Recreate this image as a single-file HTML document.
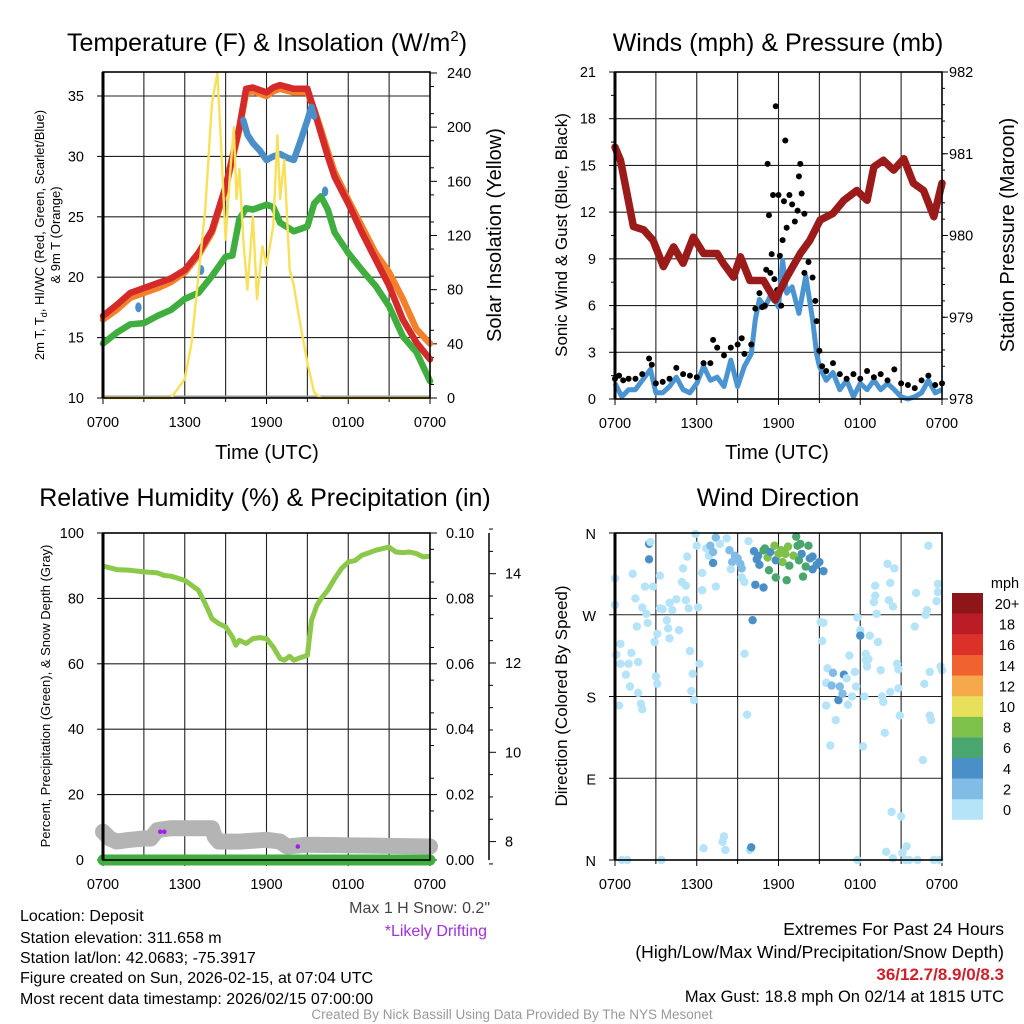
<!DOCTYPE html>
<html><head><meta charset="utf-8"><style>
html,body{margin:0;padding:0;background:#fff;}
svg{display:block;font-family:"Liberation Sans",Arial,sans-serif;}
</style></head><body>
<svg id="chart" width="1024" height="1024" viewBox="0 0 1024 1024" xmlns="http://www.w3.org/2000/svg">
<rect x="0" y="0" width="1024" height="1024" fill="#fff"/>
<g font-size="25" text-anchor="middle" fill="#000">
<text x="267" y="51">Temperature (F) &amp; Insolation (W/m<tspan font-size="15" dy="-10">2</tspan><tspan dy="10">)</tspan></text>
<text x="778" y="51">Winds (mph) &amp; Pressure (mb)</text>
<text x="265" y="506">Relative Humidity (%) &amp; Precipitation (in)</text>
<text x="778" y="506">Wind Direction</text>
</g>
<g font-size="20" text-anchor="middle">
<text x="267" y="459">Time (UTC)</text>
<text x="777" y="459">Time (UTC)</text>
<text transform="translate(501,235) rotate(-90)">Solar Insolation (Yellow)</text>
<text transform="translate(1014,235) rotate(-90)">Station Pressure (Maroon)</text>
</g>
<g font-size="17" text-anchor="middle">
<text transform="translate(567,235) rotate(-90)">Sonic Wind &amp; Gust (Blue, Black)</text>
<text transform="translate(567,696) rotate(-90)">Direction (Colored By Speed)</text>
</g>
<g font-size="13" text-anchor="middle">
<text transform="translate(44,235) rotate(-90)">2m T, T<tspan font-size="9" dy="3">d</tspan><tspan dy="-3">, HI/WC (Red, Green, Scarlet/Blue)</tspan></text>
<text transform="translate(60,235) rotate(-90)">&amp; 9m T (Orange)</text>
<text transform="translate(50,696) rotate(-90)">Percent, Precipitation (Green), &amp; Snow Depth (Gray)</text>
</g>
<g id="plots"></g>
<g font-size="16" fill="#000">
<text x="20" y="921">Location: Deposit</text>
<text x="20" y="943">Station elevation: 311.658 m</text>
<text x="20" y="963">Station lat/lon: 42.0683; -75.3917</text>
<text x="20" y="983">Figure created on Sun, 2026-02-15, at 07:04 UTC</text>
<text x="20" y="1004">Most recent data timestamp: 2026/02/15 07:00:00</text>
</g>
<text x="490" y="913" font-size="16" fill="#444" text-anchor="end">Max 1 H Snow: 0.2"</text>
<text x="487" y="936" font-size="16" fill="#a030e0" text-anchor="end">*Likely Drifting</text>
<g text-anchor="end">
<text x="1004" y="935" font-size="17.5">Extremes For Past 24 Hours</text>
<text x="1004" y="958" font-size="17.5">(High/Low/Max Wind/Precipitation/Snow Depth)</text>
<text x="1004" y="980" font-size="17" fill="#d0202a" font-weight="bold">36/12.7/8.9/0/8.3</text>
<text x="1004" y="1002" font-size="16.5">Max Gust: 18.8 mph On 02/14 at 1815 UTC</text>
</g>
<text x="512" y="1019" font-size="13.5" fill="#999" text-anchor="middle">Created By Nick Bassill Using Data Provided By The NYS Mesonet</text>
</svg>
<script>
// ---------- DATA ----------
const tempHours = [0,1,2,3,4,5,6,7,8,9,10,10.5,11,12,12.5,13,14,15,15.5,16,16.5,17,18,19,20,21,22,23,24];
const tempRed   = [16.8,17.7,18.7,19.1,19.5,19.9,20.6,22.0,23.9,27.5,32.4,35.6,35.7,35.3,35.7,35.9,35.6,35.6,33.8,31.9,30.0,28.3,26.1,23.7,21.5,19.3,16.5,14.6,13.2];
const tempOrange= [16.5,17.3,18.3,18.7,19.1,19.6,20.4,21.8,23.7,27.3,32.2,35.3,35.4,35.0,35.4,35.6,35.3,35.3,33.9,32.2,30.4,28.7,26.4,24.2,22.0,20.4,18.2,15.7,14.5];
const tdHours = [0,1,2,3,4,5,6,7,8,9,9.5,10,10.5,11,12,12.5,13,14,15,15.5,16,16.5,17,18,19,20,21,22,23,24];
const tdGreen = [14.5,15.4,16.1,16.2,16.8,17.3,18.2,18.7,20.1,21.7,21.8,24.8,25.7,25.6,26.0,25.8,24.5,23.8,24.2,26.1,26.7,25.6,23.7,22.0,20.6,19.3,17.6,15.1,13.8,11.4];
const hiHours = [10.3,10.6,11,11.5,12,12.5,13,13.5,14,14.5,15,15.3,15.5];
const hiBlue  = [33.0,31.8,31.1,30.5,29.7,30.0,30.2,29.9,29.7,31.3,33.0,34.1,33.3];
const hiDotHours = [2.6,7.2,16.3];
const hiDotVals  = [17.5,20.6,27.1];
const solarHours = [0,5,6,6.5,7,7.5,8,8.4,8.6,9,9.3,9.6,9.8,10,10.3,10.6,11,11.3,11.7,12,12.5,12.8,13,13.3,13.7,14,14.5,15,15.5,16,24];
const solarVals  = [0,0,14,41,90,139,218,240,200,117,162,200,147,169,117,80,134,73,112,98,127,194,147,176,95,83,53,26,4,0,0];

const windHours = [0,0.5,1,1.5,2,2.6,3,3.5,4,4.5,5,5.5,6,6.5,7,7.5,8,8.5,9,9.5,10,10.3,10.6,11,11.5,12,12.3,12.6,13,13.5,14,14.5,14.8,15,15.5,16,16.5,17,17.5,18,18.5,19,19.5,20,20.5,21,21.5,22,22.5,23,23.5,24];
const windSpeed = [1.0,0.15,0.6,0.6,1.2,1.9,0.4,0.4,0.8,1.4,0.6,0.4,1.0,2.1,1.2,1.4,0.8,2.5,0.8,2.1,2.9,5.1,6.4,5.9,6.8,5.9,8.9,6.8,7.2,5.5,7.9,5.1,2.9,2.1,1.2,1.7,0.6,1.2,0.15,1.0,0.6,1.2,0.6,1.0,0.6,0.15,0,0.15,0.4,1.2,0.4,0.6];
const gustHours = [0,0.3,0.6,1,1.5,2,2.5,2.7,3,3.5,4,4.5,5,5.5,6,6.5,7,7.2,7.5,8,8.5,9,9.3,9.5,10,10.3,10.6,10.8,11,11.1,11.2,11.3,11.4,11.5,11.6,11.7,11.8,11.9,12,12.1,12.2,12.3,12.4,12.5,12.6,12.8,13,13.2,13.4,13.5,13.6,13.7,13.9,13.9,14.2,14.5,14.7,14.8,15,15.2,15.5,16,16.5,17,17.5,18,18.5,19,19.5,20,20.5,21,21.5,22,22.5,23,23.5,24];
const gustSpeed = [1.3,1.5,1.2,1.3,1.3,1.6,2.6,2.2,1.0,1.1,1.3,2.0,1.6,1.5,1.4,2.3,2.3,3.8,3.3,2.8,3.3,3.5,3.9,2.9,3.5,5.8,6.8,5.9,6.0,8.3,15.1,11.8,8.1,9.3,13.1,7.7,18.8,7.0,13.1,9.2,6.0,10.2,12.7,16.6,11.0,13.1,12.5,11.4,12.1,14.3,15.1,13.2,11.9,8.1,8.8,7.8,6.3,5.0,3.1,2.1,1.8,2.3,1.6,1.3,1.6,1.3,1.8,1.4,1.6,1.2,1.9,1.0,0.9,0.7,1.2,1.5,0.9,1.0];
const presHours = [0,0.4,1.35,2.1,2.8,3.55,4.3,5.0,5.75,6.5,7.5,7.95,8.7,9.2,9.9,10.9,11.75,12.6,13.6,14.3,15.06,16.0,16.8,17.75,18.5,19.0,19.7,20.45,21.2,21.9,22.65,23.4,24];
const presVals  = [981.08,980.92,980.11,980.07,979.94,979.62,979.86,979.66,979.98,979.78,979.78,979.66,979.49,979.74,979.45,979.45,979.21,979.49,979.78,979.94,980.19,980.27,980.43,980.55,980.43,980.84,980.92,980.8,980.94,980.64,980.55,980.23,980.64];

const rhHours = [0,1,2,3,4,4.5,5,6,7,7.5,8,8.5,9,9.5,9.75,10,10.5,11,11.5,12,12.5,13,13.3,13.7,14,14.5,15,15.3,15.7,16,16.5,17,17.5,18,18.5,19,19.5,20,20.5,21,21.5,22,22.5,23,23.5,24];
const rhVals  = [89.9,88.8,88.6,88.1,87.8,87.0,86.8,85.5,82.5,78.4,73.8,72.3,71.3,68.2,65.7,67.2,66.2,67.7,68.0,67.7,65.1,61.6,61.1,62.3,61.1,61.9,62.6,73.3,77.9,79.9,82.5,86.0,89.1,91.1,91.6,93.2,93.9,94.7,95.2,95.7,94.2,94.0,94.2,93.7,92.7,92.9];
const snowHours = [0,0.5,1,2,3,3.5,4,5,8,8.2,8.5,10,12,13,13.5,15,24];
const snowVals  = [8.22,8.07,8.0,8.04,8.07,8.07,8.26,8.3,8.3,8.11,8.0,8.0,8.04,8.0,7.89,7.93,7.89];
const precipHours = [0,24];
const precipVals  = [0,0];
const driftHours = [4.2,4.5,14.3];
const driftSnow  = [8.22,8.22,7.89];

const dirHours = [0,0,0.1,0.4,0.4,1.0,1.2,0.8,1.1,0.3,1.7,1.9,2.0,1.7,1.3,1.5,1.6,2.0,2.2,2.3,2.4,2.5,2.5,2.6,2.8,3.1,2.9,3.0,3.1,3.3,3.3,3.5,3.8,3.9,4.0,4.0,4.2,4.5,4.7,5.0,5.2,4.9,5.2,5.4,5.3,5.5,5.7,5.6,5.8,5.9,6.0,6.1,6.2,6.4,6.4,6.5,6.7,6.9,7.0,7.2,7.2,7.4,7.4,7.7,7.9,8.0,8.1,8.2,8.4,8.6,8.5,8.8,9.0,9.2,9.3,9.3,9.5,9.5,9.7,9.8,9.9,10.0,10.1,10.2,10.3,10.4,10.5,10.6,10.9,10.9,11.0,11.2,11.3,11.4,11.7,11.8,11.8,12.0,12.2,12.3,12.5,12.6,12.7,12.8,13.1,13.3,13.4,13.5,13.6,13.7,13.8,14.0,14.2,14.3,14.5,14.5,14.8,15.0,15.3,15.1,15.3,15.2,15.6,15.5,15.5,15.8,16.0,16.2,15.9,16.4,16.5,16.7,16.8,17.0,17.1,17.2,17.4,17.6,17.7,17.8,18.0,18.0,18.2,18.3,18.4,18.4,18.5,18.6,18.7,17.8,19.0,19.1,19.1,19.2,19.3,19.5,19.6,19.7,19.8,19.9,20.0,20.1,20.2,20.2,20.3,20.4,20.5,20.4,20.7,20.8,20.8,20.9,21.0,21.1,21.3,21.4,21.6,22.0,22.1,22.2,22.6,22.7,22.8,22.9,23.0,23.1,23.1,23.2,23.4,23.6,23.7,23.7,23.9,24.0,23.8,0.5,0.9,3.4];
const dirDeg   = [310,281,226,238,216,216,228,204,191,170,184,172,166,218,315,288,257,278,301,271,261,348,331,350,301,249,240,202,194,313,277,276,264,255,244,283,275,287,253,321,302,306,286,277,334,230,205,186,176,359,346,278,216,297,316,13,343,335,346,339,327,301,355,348,20,26,11,354,341,328,320,335,332,326,321,311,306,227,160,351,11,14,264,340,303,331,335,325,300,341,343,333,319,339,346,311,330,337,341,328,337,308,345,324,335,356,346,330,348,337,312,323,346,332,320,334,325,328,318,262,261,241,211,195,170,126,206,154,192,176,191,183,204,200,171,225,180,207,191,267,253,247,125,180,227,220,213,221,247,0,284,291,302,271,240,209,180,174,140,9,326,286,305,185,53,2,321,279,216,189,210,159,48,8,0,15,0,257,294,0,110,194,270,275,346,207,159,154,0,285,295,304,213,209,0,0,0,0];
const dirSpeed = [1,1,1,1,1,1,1,1,1,1,1,1,1,1,1,1,1,1,1,1,1,4,4,1,1,1,1,1,1,1,1,1,1,1,1,1,1,1,1,1,1,1,1,1,1,1,1,1,1,1,1,1,1,1,1,1,1,1,3,3,4,1,3,1,1,1,1,1,3,3,1,3,3,3,3,1,1,1,1,1,1,4,4,4,5,5,5,5,5,7,7,9,7,5,9,7,5,9,8,9,9,7,9,7,9,7,7,7,7,5,7,7,7,5,5,5,5,4,4,1,1,1,1,1,1,1,3,1,3,5,3,3,5,1,1,1,1,1,1,1,1,5,1,1,1,1,1,1,1,1,1,1,1,1,1,1,1,1,1,1,1,1,1,1,1,1,1,1,1,1,1,1,1,1,1,1,1,1,1,1,1,1,1,1,1,1,1,1,1,1,1,1,1,1,1,1,1,1];
const speedColors = ['#b5e3f8','#80bce6','#4a8fc8','#4aa66f','#7dc04a','#e8e05a','#f6a94a','#f0622f','#dc3129','#bb1c25','#8e1618'];
const speedLabels = ['0','2','4','6','8','10','12','14','16','18','20+'];
const timeTickLabels = ['0700','1300','1900','0100','0700'];
const tempTicks = [10,15,20,25,30,35];
const solarTicks = [0,40,80,120,160,200,240];
const windTicks = [0,3,6,9,12,15,18,21];
const presTicks = [978,979,980,981,982];
const rhTicks = [0,20,40,60,80,100];
const precipTicks = ['0.00','0.02','0.04','0.06','0.08','0.10'];
const snowTicks = [8,10,12,14];
const dirLabels = ['N','E','S','W','N'];

// ---------- HELPERS ----------
const NS='http://www.w3.org/2000/svg';
const root=document.getElementById('plots');
function mk(tag,attrs,parent){const e=document.createElementNS(NS,tag);for(const k in attrs)e.setAttribute(k,attrs[k]);(parent||root).appendChild(e);return e;}
function lin(d0,d1,r0,r1){return v=>r0+(v-d0)*(r1-r0)/(d1-d0);}
function pathFrom(xs,ys,sx,sy){return xs.map((h,i)=>(i?'L':'M')+sx(h).toFixed(1)+','+sy(ys[i]).toFixed(1)).join('');}

function panel(id,xL,xR,yT,yB,hLines){
  const g=mk('g',{});
  
  
  const sx=lin(0,24,xL,xR);
  for(let h=3;h<24;h+=3){const l=mk('line',{x1:sx(h),x2:sx(h),y1:yT,y2:yB,stroke:'#222','stroke-width':1.1},g);
    
    }
  hLines.forEach(y=>{const l=mk('line',{x1:xL,x2:xR,y1:y,y2:y,stroke:'#222','stroke-width':1.1},g);
    
    });
  timeTickLabels.forEach((t,i)=>{const h=i*6;
    const tk=mk('line',{x1:sx(h),x2:sx(h),y1:yB,y2:yB+6,stroke:'#000'},g);
    
    
    const tx=mk('text',{x:sx(h),y:yB+29,'font-size':14.5,'text-anchor':'middle'},g);tx.textContent=t;
    
    });
  for(let h=3;h<24;h+=6){const tk=mk('line',{x1:sx(h),x2:sx(h),y1:yB,y2:yB+4,stroke:'#000'},g);
    
    }
  return sx;
}
function frame(id,xL,xR,yT,yB){const r=mk('rect',{x:xL,y:yT,width:xR-xL,height:yB-yT,fill:'none',stroke:'#000','stroke-width':1.6});
  
  
  const l=mk('line',{x1:xL,x2:xL,y1:yT,y2:yB,stroke:'#000','stroke-width':3});
  
  }
function label(x,y,t,anchor,name,size,color){const e=mk('text',{x:x,y:y,'font-size':size||14.5,'text-anchor':anchor,fill:color||'#000'});e.textContent=t;
  
  return e;}
function tick(x1,x2,y,name){const e=mk('line',{x1:x1,x2:x2,y1:y,y2:y,stroke:'#000','stroke-width':1});
  
  }

// ---------- PANEL 1: temperature ----------
{
 const xL=103,xR=430,yT=72,yB=398;
 const ty=lin(10,35,398,96), sy=lin(0,240,398,73);
 const sx=panel('temperature',xL,xR,yT,yB,[15,20,25,30,35].map(ty));
 const base=mk('line',{x1:xL,x2:xR,y1:yB-1,y2:yB-1,stroke:'#999','stroke-width':3});
 
 
 tempTicks.forEach(t=>{label(xL-19,ty(t)+5,String(t),'end','temp-tick-label');tick(xL-6,xL,ty(t),'temp-tick');});
 solarTicks.forEach(s=>{label(xR+17,sy(s)+5,String(s),'start','solar-tick-label');tick(xR,xR+7,sy(s),'solar-tick');});
 for(let s=10;s<240;s+=20)tick(xR,xR+4,sy(s),'solar-minor-tick');
 const lines=[[tdHours,tdGreen,'#3fae3f','dewpoint-line'],[tempHours,tempOrange,'#f4802b','temp-9m-line'],[tempHours,tempRed,'#d42a2a','temp-2m-line'],[hiHours,hiBlue,'#4a8fc8','heat-index-line']];
 lines.forEach(([xs,ys,c,n])=>{const p=mk('path',{d:pathFrom(xs,ys,sx,ty),fill:'none',stroke:c,'stroke-width':6.5,'stroke-linejoin':'round','stroke-linecap':'round'});
   
   });
 hiDotHours.forEach((h,i)=>{const e=mk('ellipse',{cx:sx(h),cy:ty(hiDotVals[i]),rx:3.2,ry:5,fill:'#4a8fc8'});
   
   });
 const sp=mk('path',{d:pathFrom(solarHours,solarVals,sx,sy),fill:'none',stroke:'#f8e05a','stroke-width':2.4,'stroke-linejoin':'round'});
 
 
 frame('temperature',xL,xR,yT,yB);
}
// ---------- PANEL 2: winds ----------
{
 const xL=615,xR=942,yT=72,yB=399;
 const wy=lin(0,21,399,72), py=lin(978,982,399,72);
 const sx=panel('winds',xL,xR,yT,yB,[3,6,9,12,15,18].map(wy));
 windTicks.forEach(w=>{label(xL-19,wy(w)+5,String(w),'end','wind-tick-label');tick(xL-6,xL,wy(w),'wind-tick');});
 for(let w=1.5;w<21;w+=3)tick(xL-4,xL,wy(w),'wind-minor-tick');
 presTicks.forEach(p=>{label(xR+7,py(p)+5,String(p),'start','pressure-tick-label');tick(xR,xR+6,py(p),'pressure-tick');});
 for(let p=978.2;p<982;p+=0.2)tick(xR,xR+3,py(p),'pressure-minor-tick');
 const bl=mk('path',{d:pathFrom(windHours,windSpeed,sx,wy),fill:'none',stroke:'#4a94d2','stroke-width':5,'stroke-linejoin':'round'});
 
 
 gustHours.forEach((h,i)=>{const c=mk('circle',{cx:sx(h),cy:wy(gustSpeed[i]),r:3,fill:'#000'});
   
   });
 const pp=mk('path',{d:pathFrom(presHours,presVals,sx,py),fill:'none',stroke:'#9b1a1a','stroke-width':7.5,'stroke-linejoin':'round','stroke-linecap':'round'});
 
 
 frame('winds',xL,xR,yT,yB);
}
// ---------- PANEL 3: humidity ----------
{
 const xL=103,xR=430,yT=533,yB=860;
 const ry=lin(0,100,860,533), qy=lin(0,0.1,860,533), ny=lin(8,14,841.6,573.7);
 const sx=panel('humidity',xL,xR,yT,yB,[20,40,60,80].map(ry));
 rhTicks.forEach(v=>{label(xL-19,ry(v)+5,String(v),'end','rh-tick-label');tick(xL-6,xL,ry(v),'rh-tick');});
 precipTicks.forEach(v=>{label(xR+16,qy(+v)+5,v,'start','precip-tick-label');tick(xR,xR+7,qy(+v),'precip-tick');});
 for(let v=0.005;v<0.1;v+=0.01)tick(xR,xR+4,qy(v),'precip-minor-tick');
 const ax=mk('line',{x1:489,x2:489,y1:533,y2:860,stroke:'#000','stroke-width':1.5});
 
 
 snowTicks.forEach(v=>{label(505,ny(v)+5,String(v),'start','snow-tick-label');tick(489,496,ny(v),'snow-tick');});
 for(let v=7.5;v<15.4;v+=0.5){if(v%2!==0)tick(489,493,ny(v),'snow-minor-tick');}
 const gp=mk('path',{d:pathFrom(snowHours,snowVals,sx,ny),fill:'none',stroke:'#b4b4b4','stroke-width':16,'stroke-linejoin':'round','stroke-linecap':'round'});
 
 
 const qp=mk('path',{d:pathFrom(precipHours,precipVals,sx,qy),fill:'none',stroke:'#3fae3f','stroke-width':11,'stroke-linecap':'round'});
 
 
 const rp=mk('path',{d:pathFrom(rhHours,rhVals,sx,ry),fill:'none',stroke:'#8cc84a','stroke-width':5,'stroke-linejoin':'round'});
 
 
 driftHours.forEach((h,i)=>{const c=mk('circle',{cx:sx(h),cy:ny(driftSnow[i]),r:2.3,fill:'#a020f0'});
   
   });
 frame('humidity',xL,xR,yT,yB);
}
// ---------- PANEL 4: wind direction ----------
{
 const xL=615,xR=942,yT=533,yB=860;
 const dy=lin(0,360,860,533);
 const sx=panel('direction',xL,xR,yT,yB,[90,180,270,360].map(dy));
 dirLabels.forEach((t,i)=>{label(xL-19,dy(i*90)+6,t,'end','direction-tick-label');tick(xL-6,xL,dy(i*90),'direction-tick');});
 dirHours.forEach((h,i)=>{const b=Math.min(10,Math.floor(dirSpeed[i]/2));
   const c=mk('circle',{cx:sx(h),cy:dy(dirDeg[i]),r:4.2,fill:speedColors[b]});
   
   });
 frame('direction',xL,xR,yT,yB);
 const lg=mk('g',{});
 
 
 const t=mk('text',{x:1005,y:588,'font-size':14.5,'text-anchor':'middle'},lg);t.textContent='mph';
 
 
 speedColors.forEach((c,i)=>{const y=593+(10-i)*20.6;
   const r=mk('rect',{x:952,y:y,width:31,height:20.8,fill:c},lg);
   
   
   const tx=mk('text',{x:1007,y:y+16,'font-size':14.5,'text-anchor':'middle'},lg);tx.textContent=speedLabels[i];
   
   });
}
</script>
</body></html>
